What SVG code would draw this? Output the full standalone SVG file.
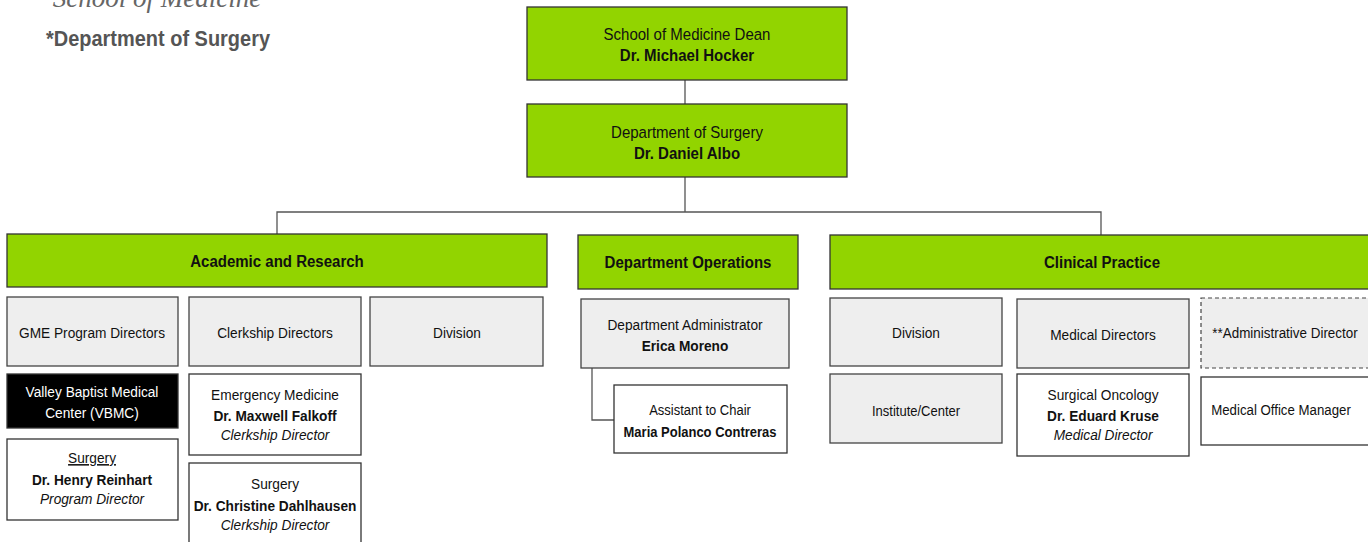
<svg xmlns="http://www.w3.org/2000/svg" width="1368" height="542" viewBox="0 0 1368 542">
<style>
text{font-family:"Liberation Sans",Arial,sans-serif;font-size:15.5px;fill:#111;text-anchor:middle;transform-box:fill-box;transform-origin:center;transform:scaleX(0.884)}
.t{font-size:17px}
.b{font-weight:bold}
.i{font-style:italic}
.h{font-weight:bold;font-size:17px}
.s{font-size:14.7px}
.g{fill:#92d400;stroke:#333;stroke-width:1.3}
.e{fill:#eeeeee;stroke:#444;stroke-width:1.3}
.w{fill:#ffffff;stroke:#333;stroke-width:1.3}
.k{fill:#000;stroke:#333;stroke-width:1.3}
.d{fill:#eeeeee;stroke:#444;stroke-width:1.2;stroke-dasharray:4 3}
.c{fill:none;stroke:#555;stroke-width:1.3}
</style>
<g id="title">
<text x="157" y="7" style="font-family:'Liberation Serif',serif;font-style:italic;font-size:27px;fill:#666;transform:none">School of Medicine</text>
<text x="158" y="46" style="font-weight:bold;font-size:22.6px;fill:#555">*Department of Surgery</text>
</g>
<g id="connectors">
<path class="c" d="M685 80V104M685 177V212M277 234V212H1101V235M592 368V420H614"/>
</g>
<g id="dean"><rect class="g" x="527" y="7" width="320" height="73"/><text class="t" x="687" y="40">School of Medicine Dean</text><text class="t b" x="687" y="61">Dr. Michael Hocker</text></g>
<g id="chair"><rect class="g" x="527" y="104" width="320" height="73"/><text class="t" x="687" y="138">Department of Surgery</text><text class="t b" x="687" y="159">Dr. Daniel Albo</text></g>
<g id="academic"><rect class="g" x="7" y="234" width="540" height="53"/><text class="h" x="277" y="267">Academic and Research</text></g>
<g id="operations"><rect class="g" x="578" y="235" width="220" height="54"/><text class="h" x="688" y="268">Department Operations</text></g>
<g id="clinical"><rect class="g" x="830" y="235" width="545" height="54"/><text class="h" x="1102" y="268">Clinical Practice</text></g>
<g id="gme"><rect class="e" x="7" y="297" width="171" height="69"/><text x="92" y="338">GME Program Directors</text></g>
<g id="clerkship"><rect class="e" x="189" y="297" width="172" height="69"/><text x="275" y="338">Clerkship Directors</text></g>
<g id="division-a"><rect class="e" x="370" y="297" width="173" height="69"/><text x="457" y="338">Division</text></g>
<g id="vbmc"><rect class="k" x="7" y="374" width="171" height="54"/><text x="92" y="397" style="fill:#fff">Valley Baptist Medical</text><text x="92" y="418" style="fill:#fff">Center (VBMC)</text></g>
<g id="reinhart"><rect class="w" x="7" y="439" width="171" height="81"/><text x="92" y="463" text-decoration="underline">Surgery</text><text class="b" x="92" y="485">Dr. Henry Reinhart</text><text class="i" x="92" y="504">Program Director</text></g>
<g id="falkoff"><rect class="w" x="189" y="374" width="172" height="81"/><text x="275" y="400">Emergency Medicine</text><text class="b" x="275" y="421">Dr. Maxwell Falkoff</text><text class="i" x="275" y="440">Clerkship Director</text></g>
<g id="dahlhausen"><rect class="w" x="189" y="463" width="172" height="85"/><text x="275" y="489">Surgery</text><text class="b" x="275" y="511">Dr. Christine Dahlhausen</text><text class="i" x="275" y="530">Clerkship Director</text></g>
<g id="administrator"><rect class="e" x="581" y="299" width="208" height="69"/><text x="685" y="330">Department Administrator</text><text class="b" x="685" y="351">Erica Moreno</text></g>
<g id="assistant"><rect class="w" x="614" y="385" width="173" height="68"/><text class="s" x="700" y="415">Assistant to Chair</text><text class="b s" x="700" y="437">Maria Polanco Contreras</text></g>
<g id="division-c"><rect class="e" x="830" y="298" width="172" height="68"/><text x="916" y="338">Division</text></g>
<g id="med-directors"><rect class="e" x="1017" y="299" width="172" height="69"/><text x="1103" y="340">Medical Directors</text></g>
<g id="admin-director"><rect class="d" x="1201" y="298" width="172" height="70"/><text x="1285" y="338" style="font-size:15.2px">**Administrative Director</text></g>
<g id="institute"><rect class="e" x="830" y="374" width="172" height="69"/><text class="s" x="916" y="416">Institute/Center</text></g>
<g id="oncology"><rect class="w" x="1017" y="374" width="172" height="82"/><text x="1103" y="400">Surgical Oncology</text><text class="b" x="1103" y="421">Dr. Eduard Kruse</text><text class="i" x="1103" y="440">Medical Director</text></g>
<g id="office-manager"><rect class="w" x="1201" y="377" width="172" height="68"/><text x="1281" y="415" style="font-size:15px">Medical Office Manager</text></g>
</svg>
